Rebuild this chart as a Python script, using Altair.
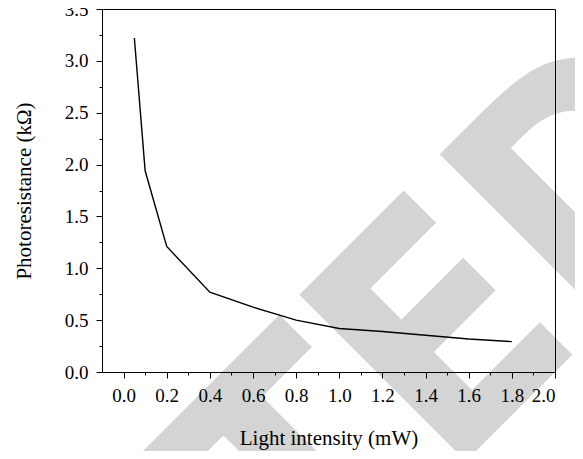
import altair as alt
import pandas as pd

# Data
intensity = [0.05, 0.1, 0.2, 0.4, 0.6, 0.8, 1.0, 1.2, 1.4, 1.6, 1.8]
resistance = [3.22, 1.94, 1.21, 0.77, 0.625, 0.50, 0.42, 0.39, 0.355, 0.318, 0.293]

x_major = [0.0, 0.2, 0.4, 0.6, 0.8, 1.0, 1.2, 1.4, 1.6, 1.8, 2.0]
x_minor = [0.1, 0.3, 0.5, 0.7, 0.9, 1.1, 1.3, 1.5, 1.7, 1.9]
y_major = [0.0, 0.5, 1.0, 1.5, 2.0, 2.5, 3.0, 3.5]
y_minor = [0.25, 0.75, 1.25, 1.75, 2.25, 2.75, 3.25]
watermark = ["RETRACTED"]

df = pd.DataFrame({"x": intensity, "y": resistance})
wm = pd.DataFrame({"t": watermark})

xs = alt.Scale(domain=[-0.1, 2.0], nice=False, zero=False)
ys = alt.Scale(domain=[0, 3.5], nice=False, zero=False)

serif = "Liberation Serif"
common = dict(labelFont=serif, labelFontSize=19, labelColor="black",
              titleFont=serif, titleFontSize=21, titleFontWeight="normal",
              titleColor="black", domainColor="black", tickColor="black",
              domainWidth=1, tickWidth=1, grid=False, zindex=1)

wm_layer = alt.Chart(wm).mark_text(
    angle=315, align="right", baseline="alphabetic", fontSize=323,
    font="Liberation Sans Narrow, Arial Narrow, DejaVu Sans Condensed, Liberation Sans",
    fontWeight="bold", color="#d4d4d4"
).encode(text="t:N", x=alt.value(656), y=alt.value(160))

main = alt.Chart(df).mark_line(color="black", strokeWidth=1.4).encode(
    x=alt.X("x:Q", scale=xs, axis=alt.Axis(
        orient="bottom", values=x_major, format=".1f", tickSize=6,
        labelPadding=8, title="Light intensity (mW)", titlePadding=22, **common)),
    y=alt.Y("y:Q", scale=ys, axis=alt.Axis(
        orient="left", values=y_major, format=".1f", tickSize=6,
        labelPadding=8, title="Photoresistance (kΩ)", titlePadding=30, **common)),
)

minor = alt.Chart(df).mark_line(opacity=0).encode(
    x=alt.X("x:Q", scale=xs, axis=alt.Axis(
        orient="bottom", values=x_minor, labels=False, domain=False,
        tickSize=3, title=None, **common)),
    y=alt.Y("y:Q", scale=ys, axis=alt.Axis(
        orient="left", values=y_minor, labels=False, domain=False,
        tickSize=3, title=None, **common)),
)

frame = alt.Chart(df).mark_line(opacity=0).encode(
    x=alt.X("x:Q", scale=xs, axis=alt.Axis(
        orient="top", labels=False, ticks=False, title=None, **common)),
    y=alt.Y("y:Q", scale=ys, axis=alt.Axis(
        orient="right", labels=False, ticks=False, title=None, **common)),
)

chart = alt.layer(wm_layer, main, minor, frame).resolve_axis(
    x="independent", y="independent"
).properties(
    width=453, height=363,
    autosize=alt.AutoSizeParams(type="none"),
    padding={"left": 94, "top": 1, "right": 20, "bottom": 79},
    background="white",
).configure_view(strokeWidth=0)

chart.save("out.html", embed_options={"renderer": "svg", "actions": False})
